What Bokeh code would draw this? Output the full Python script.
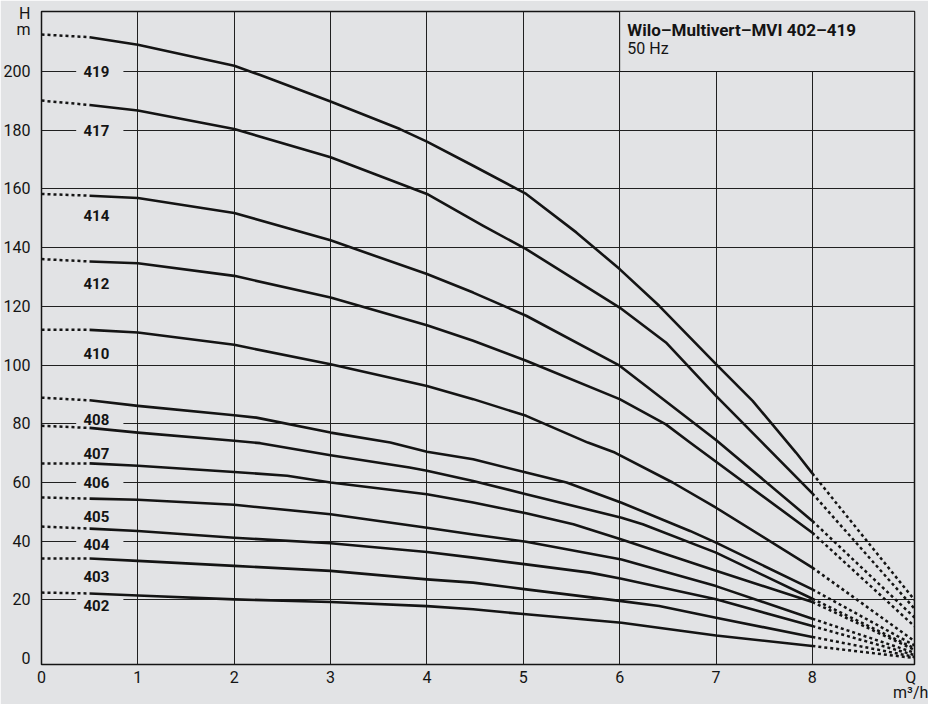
from bokeh.plotting import figure
from bokeh.models import FixedTicker, Label, Range1d
from bokeh.core.properties import value
from bokeh.embed import file_html
from bokeh.resources import INLINE

BG = "#e2e3e5"
INK = "#141414"
FONT = "Roboto"

# ---- data -------------------------------------------------------------
MODELS = ["419", "417", "414", "412", "410", "408", "407", "406", "405", "404", "403", "402"]
Q_MAX = 9.06                      # right edge of the diagram (m3/h)
H_AT_ZERO = [212.6, 190.1, 158.3, 136.1, 112.0, 88.9, 79.3, 66.5, 54.9, 45.0, 34.1, 22.5]
H_AT_QMAX = [20.0, 17.0, 14.0, 11.0, 6.0, 4.5, 3.5, 3.0, 2.0, 1.2, 0.6, 0.2]
LABEL_H = [200.0, 180.0, 150.9, 127.8, 104.0, 81.5, 70.0, 60.0, 48.3, 39.0, 28.0, 18.2]
LABEL_Q = 0.57

Q_419 = [0.5, 1, 2, 2.27, 3, 3.72, 4, 4.48, 5.03, 5.55, 6, 6.41, 7, 7.38, 7.83, 8]
H_419 = [211.7, 209.1, 202.0, 198.8, 189.8, 180.4, 176.1, 167.9, 158.3, 145.2, 132.7, 120.2, 100.3, 87.8, 70.2, 63.1]
Q_417 = [0.5, 1, 2, 3, 4, 4.58, 5.03, 6, 6.48, 7, 7.48, 8]
H_417 = [188.6, 186.7, 180.4, 170.8, 158.3, 147.5, 139.5, 119.6, 107.7, 89.5, 73.6, 56.3]
Q_414 = [0.5, 1, 2, 3, 4, 4.48, 5.03, 6, 7, 8]
H_414 = [157.7, 156.9, 151.8, 142.5, 131.0, 124.7, 116.8, 99.8, 74.5, 46.9]
Q_412 = [0.5, 1, 2, 3, 4, 4.48, 5.03, 6, 6.48, 6.73, 8]
H_412 = [135.3, 134.7, 130.4, 123.0, 113.6, 108.3, 101.5, 88.4, 79.8, 73.6, 42.9]
Q_410 = [0.5, 1, 2, 3, 4, 4.48, 5.03, 5.67, 5.95, 6.55, 7, 8]
H_410 = [112.0, 111.1, 106.9, 100.3, 92.9, 88.4, 82.7, 73.6, 70.2, 60.0, 51.4, 31.0]
Q_408 = [0.5, 1, 2, 2.23, 3, 3.62, 4, 4.48, 5.03, 5.45, 6.02, 6.73, 7, 8]
H_408 = [88.0, 86.1, 82.9, 82.1, 77.0, 73.6, 70.5, 67.9, 63.4, 60.0, 53.1, 43.5, 39.5, 23.6]
Q_407 = [0.5, 1, 2, 2.27, 3, 3.82, 4, 4.48, 5.03, 6.02, 6.24, 7, 8]
H_407 = [78.6, 77.0, 74.2, 73.4, 69.3, 65.1, 64.0, 60.5, 56.0, 48.0, 45.8, 36.1, 20.4]
Q_406 = [0.5, 1, 2, 2.55, 3, 4, 4.48, 5.03, 5.52, 6.02, 7, 8]
H_406 = [66.5, 65.7, 63.6, 62.3, 60.0, 56.0, 53.2, 49.5, 45.8, 40.6, 29.9, 19.3]
Q_405 = [0.5, 1, 2, 3, 4, 4.48, 5.03, 6.02, 7, 8]
H_405 = [54.5, 54.1, 52.4, 49.2, 44.6, 42.3, 39.8, 33.8, 24.7, 13.6]
Q_404 = [0.5, 1, 2, 3, 4, 4.48, 5.03, 5.69, 6.02, 7, 8]
H_404 = [44.3, 43.5, 41.2, 39.3, 36.3, 34.4, 32.1, 29.3, 27.2, 20.2, 11.1]
Q_403 = [0.5, 1, 2, 3, 4, 4.48, 5.03, 6.02, 6.41, 7, 8]
H_403 = [34.1, 33.3, 31.6, 29.9, 27.0, 25.9, 23.6, 19.6, 17.9, 13.9, 7.4]
Q_402 = [0.5, 1, 2, 3, 4, 4.48, 5.03, 6.02, 7, 8]
H_402 = [22.2, 21.5, 20.2, 19.3, 17.9, 16.8, 15.1, 12.2, 7.9, 4.3]

X_TICKS = [0, 1, 2, 3, 4, 5, 6, 7, 8]
Y_TICKS = [0, 20, 40, 60, 80, 100, 120, 140, 160, 180, 200]
# axis names, set as extra tick labels at the ends of the axes
Y_NAME_TICKS = {219.6: "H", 214.4: "m"}
X_NAME_TICKS = {9.02: "Q\nm\u00b3/h"}

CURVES = [(Q_419, H_419), (Q_417, H_417), (Q_414, H_414), (Q_412, H_412),
          (Q_410, H_410), (Q_408, H_408), (Q_407, H_407), (Q_406, H_406),
          (Q_405, H_405), (Q_404, H_404), (Q_403, H_403), (Q_402, H_402)]

# ---- figure -----------------------------------------------------------
p = figure(width=928, height=704, output_backend="svg", toolbar_location=None,
           x_range=Range1d(0, Q_MAX), y_range=Range1d(-2.0, 220.45),
           min_border_left=40, min_border_right=14, min_border_top=11, min_border_bottom=40)
p.background_fill_color = BG
p.border_fill_color = BG
p.outline_line_color = INK
p.outline_line_width = 1.5

p.xgrid.ticker = FixedTicker(ticks=X_TICKS[1:])
p.ygrid.ticker = FixedTicker(ticks=Y_TICKS[1:])
for g in (p.xgrid, p.ygrid):
    g.grid_line_color = "#202020"
    g.grid_line_width = 1
    g.grid_line_alpha = 1.0

p.xaxis.ticker = FixedTicker(ticks=X_TICKS + list(X_NAME_TICKS))
p.yaxis.ticker = FixedTicker(ticks=Y_TICKS + list(Y_NAME_TICKS))
p.xaxis.major_label_overrides = dict(X_NAME_TICKS)
p.yaxis.major_label_overrides = dict(Y_NAME_TICKS)
for ax in (p.xaxis, p.yaxis):
    ax.axis_line_color = None
    ax.major_tick_line_color = None
    ax.minor_tick_line_color = None
    ax.major_tick_out = 0
    ax.major_tick_in = 0
    ax.minor_tick_out = 0
    ax.minor_tick_in = 0
    ax.major_label_text_font = FONT
    ax.major_label_text_font_size = "16px"
    ax.major_label_text_color = INK
p.xaxis.major_label_text_line_height = 0.8
p.xaxis.major_label_standoff = 3
p.yaxis.major_label_standoff = 11

# title box (covers the grid in the upper right corner)
p.quad(left=[X_TICKS[6]], right=[Q_MAX], bottom=[Y_TICKS[-1]], top=[220.45],
       fill_color=BG, line_color=INK, line_width=1)

# gaps in the grid behind the type labels
p.quad(left=[0.36] * len(LABEL_H), right=[0.85] * len(LABEL_H),
       bottom=[h - 2.4 for h in LABEL_H], top=[h + 2.4 for h in LABEL_H],
       fill_color=BG, line_color=None)

# curves
for (q, h), h0, hend in zip(CURVES, H_AT_ZERO, H_AT_QMAX):
    p.line([0, q[0]], [h0, h[0]], line_color=INK, line_width=2.5,
           line_dash="3 3", line_cap="butt")
    p.line(q, h, line_color=INK, line_width=2.6, line_join="round")
    p.line([q[-1], Q_MAX], [h[-1], hend], line_color=INK, line_width=2.5,
           line_dash="3 3", line_cap="butt")

p.text(x=[LABEL_Q] * len(MODELS), y=LABEL_H, text=MODELS,
       text_font=value(FONT), text_font_style="bold", text_font_size="15px",
       text_align="center", text_baseline="middle", text_color=INK)

# title inside the box
p.add_layout(Label(x=6.08, y=214.2, text="Wilo\u2013Multivert\u2013MVI 402\u2013419",
                   text_font=FONT, text_font_style="bold", text_font_size="17px",
                   text_color=INK, text_align="left", text_baseline="alphabetic"))
p.add_layout(Label(x=6.08, y=207.8, text="50 Hz",
                   text_font=FONT, text_font_size="16px",
                   text_color=INK, text_align="left", text_baseline="alphabetic"))

open("out.html", "w").write(file_html(p, INLINE))
